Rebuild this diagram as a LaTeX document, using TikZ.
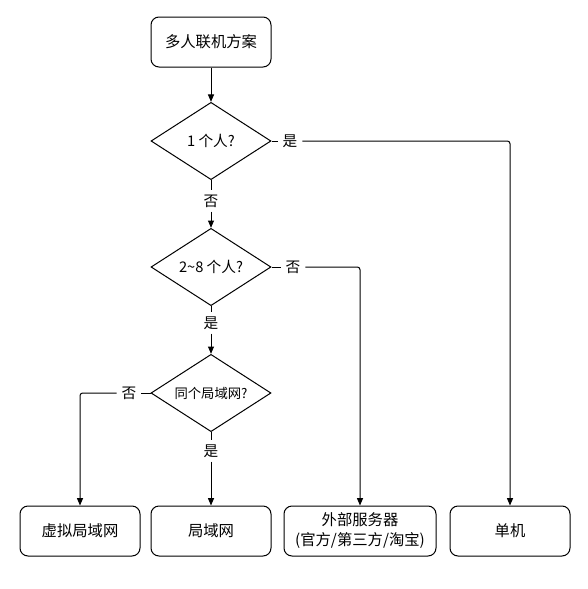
\documentclass[tikz,border=0pt]{standalone}
\usepackage{fontspec}
\setmainfont{Noto Sans CJK SC}
\usetikzlibrary{shapes.geometric,arrows.meta}
\begin{document}
\begin{tikzpicture}[x=0.75pt,y=-0.75pt,
  box/.style={draw,line width=0.75pt,rounded corners=6pt,minimum width=90pt,minimum height=37.5pt,inner sep=0pt,align=center,font=\fontsize{11.5pt}{15pt}\selectfont},
  dia/.style={draw,line width=0.75pt,diamond,aspect=1.55,minimum width=90pt,minimum height=58pt,inner sep=0pt,font=\fontsize{11pt}{13pt}\selectfont},
  lab/.style={fill=white,inner xsep=3.5pt,inner ysep=3pt,font=\fontsize{11pt}{13pt}\selectfont},
  conn/.style={line width=0.75pt,rounded corners=2pt},
  arr/.style={conn,-{Triangle[length=5.5pt,width=4.5pt]}}]
\useasboundingbox (0,0) rectangle (587,589);
\node[box] (top) at (211,42) {多人联机方案};
\node[dia] (d1) at (211,141) {1 个人?};
\node[dia] (d2) at (211,267) {2\textasciitilde 8 个人?};
\node[dia,font=\fontsize{10pt}{12pt}\selectfont] (d3) at (211,393) {同个局域网?};
\node[box] (b1) at (80,531) {虚拟局域网};
\node[box] (b2) at (211,531) {局域网};
\node[box,minimum width=114pt] (b3) at (360,531) {外部服务器\\(官方/第三方/淘宝)};
\node[box] (b4) at (510,531) {单机};
\node[lab] (l1) at (290,141) {是};
\node[lab] (l2) at (211,201) {否};
\node[lab] (l3) at (293,267) {否};
\node[lab] (l4) at (211,323) {是};
\node[lab] (l5) at (129,393) {否};
\node[lab] (l6) at (211,451) {是};
\draw[arr] (top) -- (d1);
\draw[conn] (d1.east) -- (l1);
\draw[arr] (l1) -| (b4.north);
\draw[conn] (d1.south) -- (l2);
\draw[arr] (l2) -- (d2.north);
\draw[conn] (d2.east) -- (l3);
\draw[arr] (l3) -| (b3.north);
\draw[conn] (d2.south) -- (l4);
\draw[arr] (l4) -- (d3.north);
\draw[conn] (d3.west) -- (l5);
\draw[arr] (l5) -| (b1.north);
\draw[conn] (d3.south) -- (l6);
\draw[arr] (l6) -- (b2.north);
\end{tikzpicture}
\end{document}
